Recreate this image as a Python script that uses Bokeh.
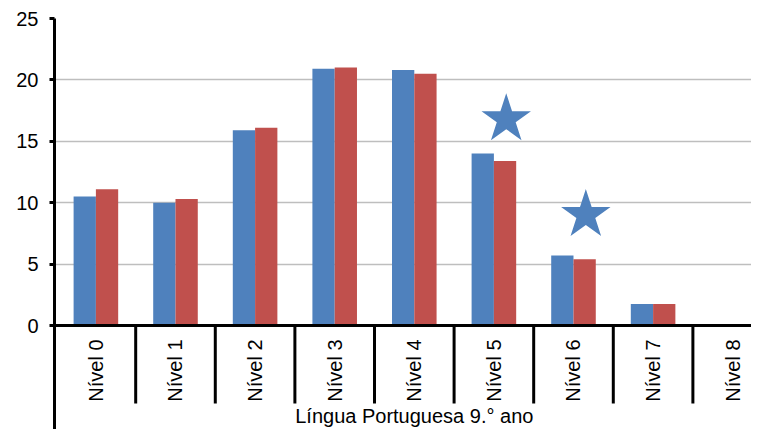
from math import pi
from bokeh.plotting import figure
from bokeh.models import Range1d, FixedTicker, Span
from bokeh.core.properties import value
from bokeh.embed import file_html
from bokeh.resources import INLINE

# ---- data ----
levels = ["Nível 0", "Nível 1", "Nível 2", "Nível 3", "Nível 4",
          "Nível 5", "Nível 6", "Nível 7", "Nível 8"]
series_a = [10.5, 10.0, 15.9, 20.9, 20.8, 14.0, 5.7, 1.75, 0.0]
series_b = [11.1, 10.3, 16.1, 21.0, 20.5, 13.4, 5.4, 1.75, 0.0]
y_ticks = [0, 5, 10, 15, 20, 25]
group_title = "Língua Portuguesa 9.° ano"
star_levels = ["Nível 5", "Nível 6"]
star_values = [16.8, 9.0]

BLUE = "#4F81BD"
RED = "#C0504D"
FONT = value("Liberation Sans")

W, H = 751, 429
LEFT, TOP = 54, 18
cat_w = 79.6          # px per category
px_per_unit = 12.28   # px per y unit
x0 = -0.02
x1 = x0 + (W - LEFT) / cat_w
y_min = -(H - TOP - 25 * px_per_unit) / px_per_unit

p = figure(width=W, height=H, output_backend="svg", toolbar_location=None,
           x_range=Range1d(x0, x1), y_range=Range1d(y_min, 25),
           x_axis_type=None, min_border_left=LEFT, min_border_top=TOP,
           min_border_right=0, min_border_bottom=0)
p.outline_line_color = None
p.background_fill_color = "white"
p.border_fill_color = "white"

# grid
p.xgrid.visible = False
p.ygrid.ticker = FixedTicker(ticks=y_ticks)
p.ygrid.grid_line_color = "#BEBEBE"
p.ygrid.grid_line_width = 1.5

# y axis
ax = p.yaxis[0]
ax.ticker = FixedTicker(ticks=y_ticks)
ax.axis_line_color = "black"
ax.axis_line_width = 3
ax.major_tick_line_color = "black"
ax.major_tick_line_width = 3
ax.major_tick_out = 5
ax.major_tick_in = 0
ax.minor_tick_line_color = None
ax.major_label_standoff = 11
ax.major_label_text_font = "Liberation Sans"
ax.major_label_text_font_size = "20px"
ax.major_label_text_color = "black"

idx = list(range(len(levels)))
centers = [i + 0.5 for i in idx]
bw = 0.28

p.vbar(x=[c - bw / 2 for c in centers], top=series_a, bottom=0, width=bw,
       fill_color=BLUE, line_color=None)
p.vbar(x=[c + bw / 2 for c in centers], top=series_b, bottom=0, width=bw,
       fill_color=RED, line_color=None)

# baseline of category axis
p.add_layout(Span(location=0, dimension="width", line_color="black", line_width=3))

# category separators
bounds = [i for i in range(1, len(levels) + 1)]
sep_bottom = -78 / px_per_unit
p.segment(x0=bounds, y0=[0] * len(bounds), x1=bounds, y1=[sep_bottom] * len(bounds),
          line_color="black", line_width=3)

# category labels
p.text(x=centers, y=[-14 / px_per_unit] * len(levels), text=levels, angle=pi / 2,
       text_align="right", text_baseline="middle", text_font=FONT,
       text_font_size="20px", text_color="black")

# group title
p.text(x=[len(levels) / 2], y=[-90 / px_per_unit], text=[group_title],
       text_align="center", text_baseline="middle", text_font=FONT,
       text_font_size="20px", text_color="black")

# stars
star_x = [levels.index(s) + 0.5 + 0.155 for s in star_levels]
p.scatter(x=star_x, y=star_values, marker="star", size=52,
          fill_color=BLUE, line_color=None)

open("out.html", "w").write(file_html(p, INLINE))
